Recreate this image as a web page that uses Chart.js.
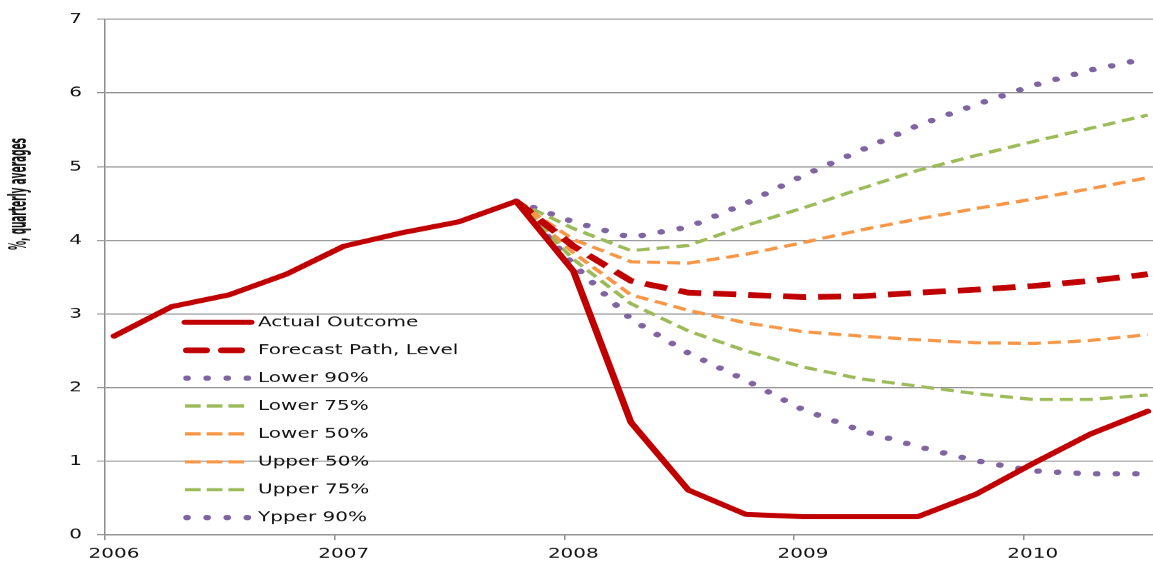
<!DOCTYPE html>
<html>
<head>
<meta charset="utf-8">
<script src="https://cdn.jsdelivr.net/npm/chart.js@4.4.1/dist/chart.umd.min.js"></script>
<style>
html, body { margin: 0; padding: 0; background: #ffffff; overflow: hidden; }
#chart_rates { display: block; }
</style>
</head>
<body>
<canvas id="chart_rates" width="1153" height="794" style="width: 1153px; height: 567px;"></canvas>
<script>
// the reference looks squeezed vertically (wide text, oval dots), so the canvas
// is drawn taller than it is shown and the browser squeezes it back
const y_stretch = 794 / 567;

const quarter_x = [
    2006.04, 2006.29, 2006.54, 2006.79,
    2007.04, 2007.29, 2007.54, 2007.79,
    2008.04, 2008.29, 2008.54, 2008.79,
    2009.04, 2009.29, 2009.54, 2009.79,
    2010.04, 2010.29, 2010.54,
];
const year_ticks = [2006, 2007, 2008, 2009, 2010];
const value_ticks = [0, 1, 2, 3, 4, 5, 6, 7];

const actual_outcome = [2.70, 3.10, 3.26, 3.54, 3.92, 4.10, 4.25, 4.53, 3.58, 1.53, 0.61, 0.28, 0.25, 0.25, 0.25, 0.55, 0.97, 1.37, 1.68];
// fan chart starts at the last observed quarter (2007 Q4)
const forecast_path = [null, null, null, null, null, null, null, 4.53, 3.92, 3.45, 3.29, 3.26, 3.23, 3.24, 3.29, 3.33, 3.38, 3.45, 3.54];
const lower_90 = [null, null, null, null, null, null, null, 4.53, 3.67, 2.93, 2.47, 2.10, 1.70, 1.42, 1.20, 1.01, 0.87, 0.83, 0.83];
const lower_75 = [null, null, null, null, null, null, null, 4.53, 3.74, 3.14, 2.77, 2.50, 2.28, 2.12, 2.02, 1.92, 1.84, 1.84, 1.90];
const lower_50 = [null, null, null, null, null, null, null, 4.53, 3.83, 3.26, 3.05, 2.88, 2.76, 2.70, 2.65, 2.61, 2.60, 2.64, 2.72];
const upper_50 = [null, null, null, null, null, null, null, 4.53, 4.01, 3.71, 3.69, 3.81, 3.97, 4.14, 4.29, 4.43, 4.56, 4.70, 4.85];
const upper_75 = [null, null, null, null, null, null, null, 4.53, 4.16, 3.86, 3.93, 4.20, 4.44, 4.70, 4.95, 5.15, 5.34, 5.52, 5.70];
const upper_90 = [null, null, null, null, null, null, null, 4.53, 4.25, 4.04, 4.18, 4.50, 4.88, 5.22, 5.56, 5.84, 6.10, 6.31, 6.47];

const y_title = '%, quarterly averages';

const red = '#c00000';
const purple = '#8064a2';
const green = '#9bbb59';
const orange = '#f79646';
const text_color = '#111111';
const grid_color = '#8e8e8e';

function to_points(values) {
    return values.map((v, i) => ({ x: quarter_x[i], y: v }));
}

function dotted_set(label, values) {
    return {
        label: label,
        data: to_points(values),
        borderColor: purple,
        borderWidth: 7.5,
        borderDash: [0.1, 19.5],
        borderCapStyle: 'round',
        legendDash: [0.1, 20],
        legendFrom: 187,
        legendTo: 250,
    };
}

function dashed_set(label, values, color) {
    return {
        label: label,
        data: to_points(values),
        borderColor: color,
        borderWidth: 4.5,
        borderDash: [13, 7],
        legendDash: [15.7, 6],
        legendFrom: 185,
        legendTo: 245,
    };
}

const datasets = [
    {
        label: 'Actual Outcome',
        data: to_points(actual_outcome),
        borderColor: red,
        borderWidth: 7,
        borderJoinStyle: 'round',
        borderCapStyle: 'round',
        legendFrom: 185,
        legendTo: 251,
    },
    {
        label: 'Forecast Path, Level',
        data: to_points(forecast_path),
        borderColor: red,
        borderWidth: 8,
        borderDash: [23, 12],
        legendFrom: 187,
        legendTo: 242,
    },
    dotted_set('Lower 90%', lower_90),
    dashed_set('Lower 75%', lower_75, green),
    dashed_set('Lower 50%', lower_50, orange),
    dashed_set('Upper 50%', upper_50, orange),
    dashed_set('Upper 75%', upper_75, green),
    dotted_set('Ypper 90%', upper_90),
];
// legend sample for the forecast: two long round-ended dashes
datasets[1].legendDash = [19, 16];
datasets[1].legendCap = 'round';

const overlay_plugin = {
    id: 'overlay',
    afterDatasetsDraw(chart) {
        const ctx = chart.ctx;
        ctx.save();
        chart.data.datasets.forEach((ds, i) => {
            const y = (322.3 + i * 27.9) * y_stretch;
            ctx.beginPath();
            ctx.strokeStyle = ds.borderColor;
            ctx.lineWidth = ds.borderWidth;
            ctx.lineCap = ds.legendCap || ds.borderCapStyle || 'butt';
            ctx.setLineDash(ds.legendDash || []);
            ctx.moveTo(ds.legendFrom, y);
            ctx.lineTo(ds.legendTo, y);
            ctx.stroke();
            ctx.setLineDash([]);

            ctx.fillStyle = text_color;
            ctx.font = '20px "DejaVu Sans"';
            ctx.textAlign = 'left';
            ctx.textBaseline = 'middle';
            ctx.fillText(ds.label, 258, y);
        });

        // rotated axis title, squeezed to the length it has in the reference
        ctx.translate(19, 194 * y_stretch);
        ctx.rotate(-Math.PI / 2);
        ctx.fillStyle = text_color;
        ctx.font = 'bold 25px "Liberation Sans Narrow", "DejaVu Sans Condensed", sans-serif';
        const title_len = ctx.measureText(y_title).width;
        const want_len = 112 * y_stretch;
        if (title_len > want_len) {
            ctx.scale(want_len / title_len, 1);
        }
        ctx.textAlign = 'center';
        ctx.textBaseline = 'middle';
        ctx.fillText(y_title, 0, 0);
        ctx.restore();
    },
};

const tick_font = { family: 'DejaVu Sans', size: 20 };

new Chart(document.getElementById('chart_rates').getContext('2d'), {
    type: 'line',
    data: { datasets: datasets },
    options: {
        responsive: false,
        animation: false,
        devicePixelRatio: 1,
        parsing: false,
        elements: {
            point: { radius: 0 },
            line: { tension: 0 },
        },
        layout: {
            padding: { top: 11 * y_stretch, left: 0, right: 0, bottom: 0 },
        },
        plugins: {
            legend: { display: false },
            tooltip: { enabled: false },
        },
        scales: {
            x: {
                type: 'linear',
                min: 2006,
                max: 2010.563,
                afterBuildTicks: (scale) => {
                    scale.ticks = year_ticks.map((v) => ({ value: v }));
                },
                afterFit: (scale) => {
                    scale.height = 794 - 535 * y_stretch;
                },
                ticks: {
                    color: text_color,
                    font: tick_font,
                    padding: 8,
                    labelOffset: 9,
                    maxRotation: 0,
                    callback: (v) => String(v),
                },
                grid: {
                    drawOnChartArea: false,
                    drawTicks: true,
                    tickLength: 7,
                    color: grid_color,
                    lineWidth: 1.5,
                },
                border: { color: grid_color, width: 1.4 },
            },
            y: {
                min: 0,
                max: 7,
                afterBuildTicks: (scale) => {
                    scale.ticks = value_ticks.map((v) => ({ value: v }));
                },
                afterFit: (scale) => {
                    scale.width = 105;
                },
                ticks: {
                    color: text_color,
                    font: tick_font,
                    padding: 15,
                },
                grid: {
                    color: grid_color,
                    lineWidth: 1.4,
                    tickLength: 8,
                },
                border: { color: grid_color, width: 1.5 },
            },
        },
    },
    plugins: [overlay_plugin],
});
</script>
</body>
</html>
